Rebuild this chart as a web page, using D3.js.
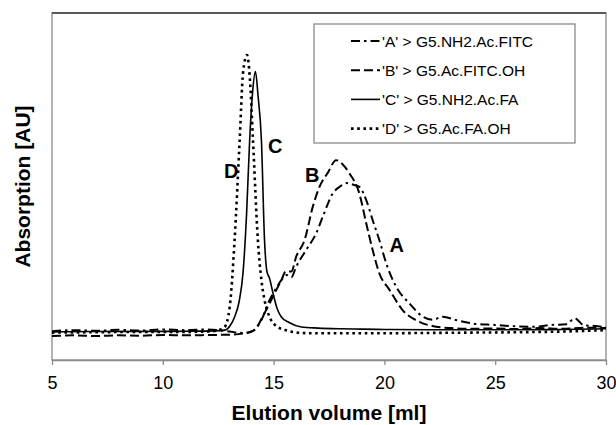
<html>
<head>
    <script src="https://cdn.jsdelivr.net/npm/d3@7"></script>
    <style>
        body { margin: 0; background: #fff; font-family: "Liberation Sans", Arial, Helvetica, sans-serif; }
        #Chart { display: block; }
        .tick text { fill: #000; }
    </style>
</head>
<body>
    <svg id="Chart"></svg>
</body>
<script>
// ---- data (elution volume in ml, absorption in AU) ----
const xTicks = [5, 10, 15, 20, 25, 30];

const seriesNames = ["'A' > G5.NH2.Ac.FITC", "'B' > G5.Ac.FITC.OH", "'C' > G5.NH2.Ac.FA", "'D' > G5.Ac.FA.OH"];

const volA = [5, 6, 7, 8, 9, 10, 11, 12, 13, 13.6, 14.0, 14.45, 14.82, 15.1, 15.35, 15.6, 15.8, 16.02, 16.47, 16.92, 17.22, 17.67, 18.0, 18.3, 18.6, 18.87, 19.18, 19.47, 19.77, 20.08, 20.53, 21.13, 21.73, 22.2, 22.63, 23.23, 24, 25, 26, 26.83, 27.5, 28.2, 28.6, 29, 29.5, 30];
const absA = [8.3, 8.6, 8.4, 8.7, 8.5, 8.8, 8.6, 8.8, 8.2, 7.8, 8.2, 11.5, 17.3, 20.5, 23, 24.5, 23.8, 26.9, 31.7, 36.5, 41.3, 48, 50, 51, 50.5, 49.9, 46.1, 40.3, 34.6, 27.9, 21.1, 16.3, 12.5, 11.6, 12.5, 11.5, 10.5, 10.1, 9.7, 9.6, 10.1, 10.3, 12, 10, 9.8, 9.4];

const volB = [5, 6, 7, 8, 9, 10, 11, 12, 13, 13.6, 14.1, 14.59, 15.05, 15.35, 15.55, 15.8, 16.02, 16.4, 16.77, 17.07, 17.45, 17.82, 18.1, 18.42, 18.87, 19.18, 19.47, 19.77, 20.23, 20.82, 21.58, 22.33, 23, 24, 25, 26, 27, 28, 29, 30];
const absB = [6.9, 7.1, 6.9, 7.1, 7.0, 7.2, 7.1, 7.2, 7.3, 7.6, 8.5, 13.5, 19.3, 23, 25.5, 25.5, 29.8, 34.6, 44.2, 49.9, 54, 57.6, 56.5, 53.8, 48, 39.4, 31.7, 25, 20.2, 14.4, 11, 9.6, 9.2, 9.0, 9.1, 8.9, 9.2, 9.0, 9.3, 9.2];

const volC = [5, 7, 9, 11, 12.3, 12.8, 13.05, 13.24, 13.45, 13.62, 13.78, 13.92, 14.05, 14.18, 14.3, 14.45, 14.59, 14.7, 14.82, 14.97, 15.15, 15.35, 15.7, 16.25, 17, 18, 19, 20, 22, 24, 26, 28, 30];
const absC = [8.1, 8.2, 8.2, 8.3, 8.4, 8.6, 10, 12.4, 17, 25.1, 42, 63.4, 77, 83.1, 76, 63.4, 34.6, 25.5, 23.5, 19.3, 15, 12.4, 10.8, 9.5, 9.2, 9.0, 8.9, 8.8, 8.7, 8.7, 8.7, 8.8, 9.0];

const volD = [5, 7, 9, 11, 12.0, 12.5, 12.79, 13.02, 13.24, 13.47, 13.62, 13.8, 13.92, 14.07, 14.29, 14.45, 14.59, 14.85, 15.19, 15.6, 16.25, 17, 18, 20, 22, 24, 26, 28, 30];
const absD = [7.9, 8.0, 8.1, 8.1, 8.2, 8.6, 9.5, 15.3, 34.6, 63.4, 82.7, 87.9, 82, 63.4, 34.6, 23, 17.3, 12, 9.5, 8.5, 7.8, 7.7, 7.7, 7.7, 7.8, 7.9, 8.0, 8.2, 8.6];

// peak letters placed in data units
const peakLetters = ["A", "B", "C", "D"];
const peakLetterVol = [20.56, 16.74, 15.07, 13.09];
const peakLetterAbs = [33.1, 53.2, 61.8, 54.6];

// ---- drawing ----
const lineStyles = [
    { dash: "9,4,2.5,4", width: 2 },
    { dash: "9,4", width: 2 },
    { dash: null, width: 1.6 },
    { dash: "2.6,3.6", width: 2.6 }
];

function drawChart() {
    let width = 616, height = 425;
    let margin = { top: 13, right: 10, bottom: 65, left: 52 };
    let bodyWidth = width - margin.left - margin.right;
    let bodyHeight = height - margin.top - margin.bottom;

    let svg = d3.select("#Chart").attr("width", width).attr("height", height);

    let xScale = d3.scaleLinear().domain([5, 30]).range([margin.left, margin.left + bodyWidth]);
    let yScale = d3.scaleLinear().domain([0, 100]).range([margin.top + bodyHeight, margin.top]);

    // plot frame
    svg.append("rect")
        .attr("x", margin.left).attr("y", margin.top)
        .attr("width", bodyWidth).attr("height", bodyHeight)
        .attr("fill", "none").attr("stroke", "#8a8a8a").attr("stroke-width", 1.3);
    svg.append("line")
        .attr("x1", margin.left).attr("x2", margin.left + bodyWidth)
        .attr("y1", margin.top).attr("y2", margin.top)
        .attr("stroke", "#000").attr("stroke-width", 1.2);

    // x axis
    let axisX = d3.axisBottom(xScale).tickValues(xTicks).tickSize(5).tickSizeOuter(0);
    let gx = svg.append("g")
        .attr("transform", `translate(0,${margin.top + bodyHeight})`)
        .call(axisX);
    gx.select(".domain").attr("stroke", "#8a8a8a").attr("stroke-width", 1.3);
    gx.selectAll(".tick line").attr("stroke", "#8a8a8a").attr("stroke-width", 1.3);
    gx.selectAll(".tick text")
        .attr("font-family", "Liberation Sans, Arial, sans-serif")
        .attr("font-size", 18).attr("dy", "1.15em");

    // curves
    let vols = [volA, volB, volC, volD];
    let abss = [absA, absB, absC, absD];
    let line = d3.line()
        .x(d => xScale(d[0]))
        .y(d => yScale(d[1]))
        .curve(d3.curveMonotoneX);

    let body = svg.append("g");
    seriesNames.forEach((name, i) => {
        let pts = vols[i].map((v, j) => [v, abss[i][j]]);
        body.append("path")
            .datum(pts)
            .attr("d", line)
            .attr("fill", "none")
            .attr("stroke", "#000")
            .attr("stroke-width", lineStyles[i].width)
            .attr("stroke-dasharray", lineStyles[i].dash);
    });

    // peak letters
    peakLetters.forEach((t, i) => {
        svg.append("text")
            .attr("x", xScale(peakLetterVol[i]))
            .attr("y", yScale(peakLetterAbs[i]))
            .attr("text-anchor", "middle")
            .attr("dominant-baseline", "central")
            .attr("font-size", 20)
            .attr("font-weight", "bold")
            .text(t);
    });

    // legend
    let legend = svg.append("g");
    legend.append("rect")
        .attr("x", 314).attr("y", 24).attr("width", 261).attr("height", 119)
        .attr("fill", "#fff").attr("stroke", "#8a8a8a").attr("stroke-width", 1.3);
    seriesNames.forEach((name, i) => {
        let y = 41 + i * 29.2;
        legend.append("line")
            .attr("x1", 351).attr("x2", 380)
            .attr("y1", y).attr("y2", y)
            .attr("stroke", "#000")
            .attr("stroke-width", lineStyles[i].width)
            .attr("stroke-dasharray", lineStyles[i].dash);
        legend.append("text")
            .attr("x", 382).attr("y", y)
            .attr("dominant-baseline", "central")
            .attr("font-size", 15.5)
            .text(name);
    });

    // axis titles
    svg.append("text")
        .attr("x", margin.left + bodyWidth / 2)
        .attr("y", 420)
        .attr("text-anchor", "middle")
        .attr("font-size", 21)
        .attr("font-weight", "bold")
        .text("Elution volume [ml]");

    svg.append("text")
        .attr("transform", `translate(30,${margin.top + bodyHeight / 2}) rotate(-90)`)
        .attr("text-anchor", "middle")
        .attr("font-size", 21)
        .attr("font-weight", "bold")
        .text("Absorption [AU]");
}

drawChart();
</script>
</html>
